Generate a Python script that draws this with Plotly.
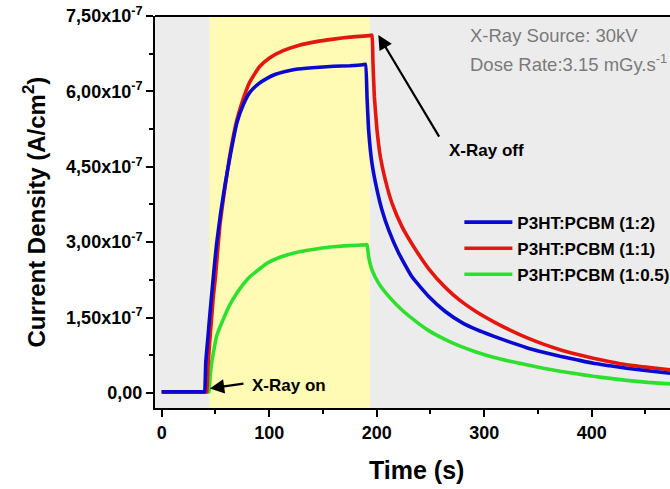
import plotly.graph_objects as go

# ---------------- data (current density in units of 1e-7 A/cm^2) ----------------
t_blue = [0, 20, 39.5, 40, 41, 43, 45, 48, 51, 55, 59, 64, 70, 76, 82, 90, 98, 106, 114, 125, 140, 160, 175,
          187, 189.5, 191, 192.5, 195.6, 200.3, 204.9, 211.2, 220.5, 232.8, 248.4, 263.8, 279.3, 293,
          308.5, 324, 339.5, 355, 370.5, 386, 401.5, 417, 432.4, 452, 473]
j_blue = [0.02, 0.02, 0.02, 0.02, 0.6, 1.1, 1.6, 2.3, 2.95, 3.6, 4.15, 4.75, 5.38, 5.74, 5.98, 6.15, 6.26, 6.34, 6.39, 6.44, 6.47, 6.50, 6.51,
          6.53, 6.54, 5.89, 5.23, 4.57, 4.04, 3.64, 3.24, 2.78, 2.31, 1.92, 1.62, 1.40, 1.26,
          1.13, 1.01, 0.90, 0.81, 0.73, 0.66, 0.59, 0.54, 0.49, 0.44, 0.39]

t_red = [0, 20, 41.5, 42, 43, 45, 48, 50, 54, 59, 64, 70, 76, 82, 91, 100, 113, 128, 144, 160, 175,
         193, 195.5, 196.5, 197.8, 200.3, 203.4, 208, 214.3, 223.5, 235.9, 248.4, 263.8, 277.5, 293,
         308.5, 324, 339.5, 355, 370.5, 386, 401.5, 417, 432.4, 452, 473]
j_red = [0.02, 0.02, 0.02, 0.02, 0.5, 1.1, 1.9, 2.3, 3.3, 4.1, 4.8, 5.43, 5.86, 6.19, 6.49, 6.66, 6.81, 6.92, 6.99, 7.04, 7.08,
         7.11, 7.12, 6.6, 5.90, 5.23, 4.70, 4.24, 3.77, 3.31, 2.86, 2.47, 2.10, 1.84, 1.61,
         1.42, 1.25, 1.10, 0.97, 0.86, 0.77, 0.69, 0.62, 0.56, 0.51, 0.46]

t_green = [0, 20, 43.5, 44, 45, 46.5, 48, 51, 54, 57, 61, 66, 72, 82, 90, 98, 110, 128, 145, 160, 175, 189, 191,
           192.5, 195.6, 201.9, 211.2, 223.5, 239.1, 248.4, 263, 277.5, 293, 308.5, 324, 339.5,
           355, 370.5, 386, 401.5, 417, 432.4, 452, 473]
j_green = [0.02, 0.02, 0.02, 0.02, 0.3, 0.6, 0.79, 1.12, 1.3, 1.45, 1.65, 1.85, 2.05, 2.31, 2.45, 2.58, 2.7, 2.81, 2.87, 2.91, 2.93, 2.945, 2.95,
           2.71, 2.45, 2.18, 1.92, 1.65, 1.38, 1.24, 1.07, 0.93, 0.81, 0.71, 0.63, 0.56,
           0.49, 0.43, 0.38, 0.33, 0.29, 0.25, 0.21, 0.18]

series_names = ["P3HT:PCBM (1:2)", "P3HT:PCBM (1:1)", "P3HT:PCBM (1:0.5)"]
xray_on_off = [44.5, 193.7]

y_tickvals = [0, 1.5e-7, 3.0e-7, 4.5e-7, 6.0e-7, 7.5e-7]
y_ticktext = ["0,00", "1,50x10<sup>-7</sup>", "3,00x10<sup>-7</sup>", "4,50x10<sup>-7</sup>",
              "6,00x10<sup>-7</sup>", "7,50x10<sup>-7</sup>"]
y_minor = [0.75e-7, 2.25e-7, 3.75e-7, 5.25e-7, 6.75e-7]

SCALE = 1e-7
FONT = "Liberation Sans, Arial, sans-serif"

fig = go.Figure()

fig.add_vrect(x0=xray_on_off[0], x1=xray_on_off[1], fillcolor="#FFFAB4", opacity=1,
              layer="below", line_width=0)

traces = [
    (series_names[2], t_green, j_green, "#2EE02E", 3),
    (series_names[1], t_red, j_red, "#E3170F", 2),
    (series_names[0], t_blue, j_blue, "#0A0ACF", 1),
]
for name, t, j, color, rank in traces:
    fig.add_trace(go.Scatter(
        x=t, y=[v * SCALE for v in j], mode="lines", name=name,
        line=dict(color=color, width=3.6, shape="spline", smoothing=0.4),
        legendrank=rank, legendgroup=name,
    ))

axis_common = dict(
    showline=True, linewidth=2, linecolor="black", showgrid=False, zeroline=False,
    ticks="outside", ticklen=7, tickwidth=2, tickcolor="black",
    tickfont=dict(family=FONT, size=18, color="black", weight="bold"),
)

fig.update_layout(
    width=670, height=489,
    margin=dict(l=155, r=0, t=16, b=81, autoexpand=False),
    paper_bgcolor="white", plot_bgcolor="#ECECEC",
    font=dict(family=FONT, color="black"),
    xaxis=dict(range=[-6.2, 472.8], tick0=0, dtick=100,
               minor=dict(dtick=50, ticks="outside", ticklen=4, tickwidth=2, tickcolor="black"),
               **axis_common),
    yaxis=dict(range=[-0.3e-7, 7.5e-7], tickvals=y_tickvals, ticktext=y_ticktext,
               minor=dict(tickvals=y_minor, ticks="outside", ticklen=4, tickwidth=2, tickcolor="black"),
               **axis_common),
    showlegend=True,
    legend=dict(x=0.591, y=0.519, xanchor="left", yanchor="top", bgcolor="rgba(0,0,0,0)",
                font=dict(family=FONT, size=17, color="black", weight="bold"),
                traceorder="grouped", tracegroupgap=1, itemwidth=48),
)

# top frame line
fig.add_shape(type="line", xref="paper", yref="paper", x0=0, x1=1, y0=1, y1=1,
              line=dict(color="black", width=2))

# axis titles
fig.add_annotation(xref="paper", yref="paper", x=0.507, y=-0.158, text="<b>Time (s)</b>",
                   showarrow=False, font=dict(family=FONT, size=25, color="black"),
                   xanchor="center", yanchor="middle")
fig.add_annotation(xref="paper", yref="paper", x=-0.234, y=0.5,
                   text="<b>Current Density (A/cm<sup>2</sup>)</b>", textangle=-90,
                   showarrow=False, font=dict(family=FONT, size=24, color="black"),
                   xanchor="center", yanchor="middle")

# info text
fig.add_annotation(x=285, y=7.12e-7, text="X-Ray Source: 30kV", showarrow=False,
                   xanchor="left", yanchor="middle", font=dict(family=FONT, size=18.5, color="#7A7A7A"))
fig.add_annotation(x=285, y=6.565e-7, text="Dose Rate:3.15 mGy.s<sup>-1</sup>", showarrow=False,
                   xanchor="left", yanchor="middle", font=dict(family=FONT, size=18.5, color="#7A7A7A"))

# X-Ray off arrow + label
fig.add_annotation(x=201.5, y=7.12e-7, ax=258.9, ay=5.07e-7, axref="x", ayref="y", text="",
                   showarrow=True, arrowhead=2, arrowsize=1.3, arrowwidth=2.2, arrowcolor="black")
fig.add_annotation(x=265.1, y=4.83e-7, text="<b>X-Ray off</b>", showarrow=False,
                   xanchor="left", yanchor="middle", font=dict(family=FONT, size=17, color="black"))

# X-Ray on arrow + label
fig.add_annotation(x=44.9, y=0.09e-7, ax=77.5, ay=0.19e-7, axref="x", ayref="y", text="",
                   showarrow=True, arrowhead=2, arrowsize=1.3, arrowwidth=2.2, arrowcolor="black")
fig.add_annotation(x=82.1, y=0.14e-7, text="<b>X-Ray on</b>", showarrow=False,
                   xanchor="left", yanchor="middle", font=dict(family=FONT, size=17, color="black"))

fig.write_html("out.html")
